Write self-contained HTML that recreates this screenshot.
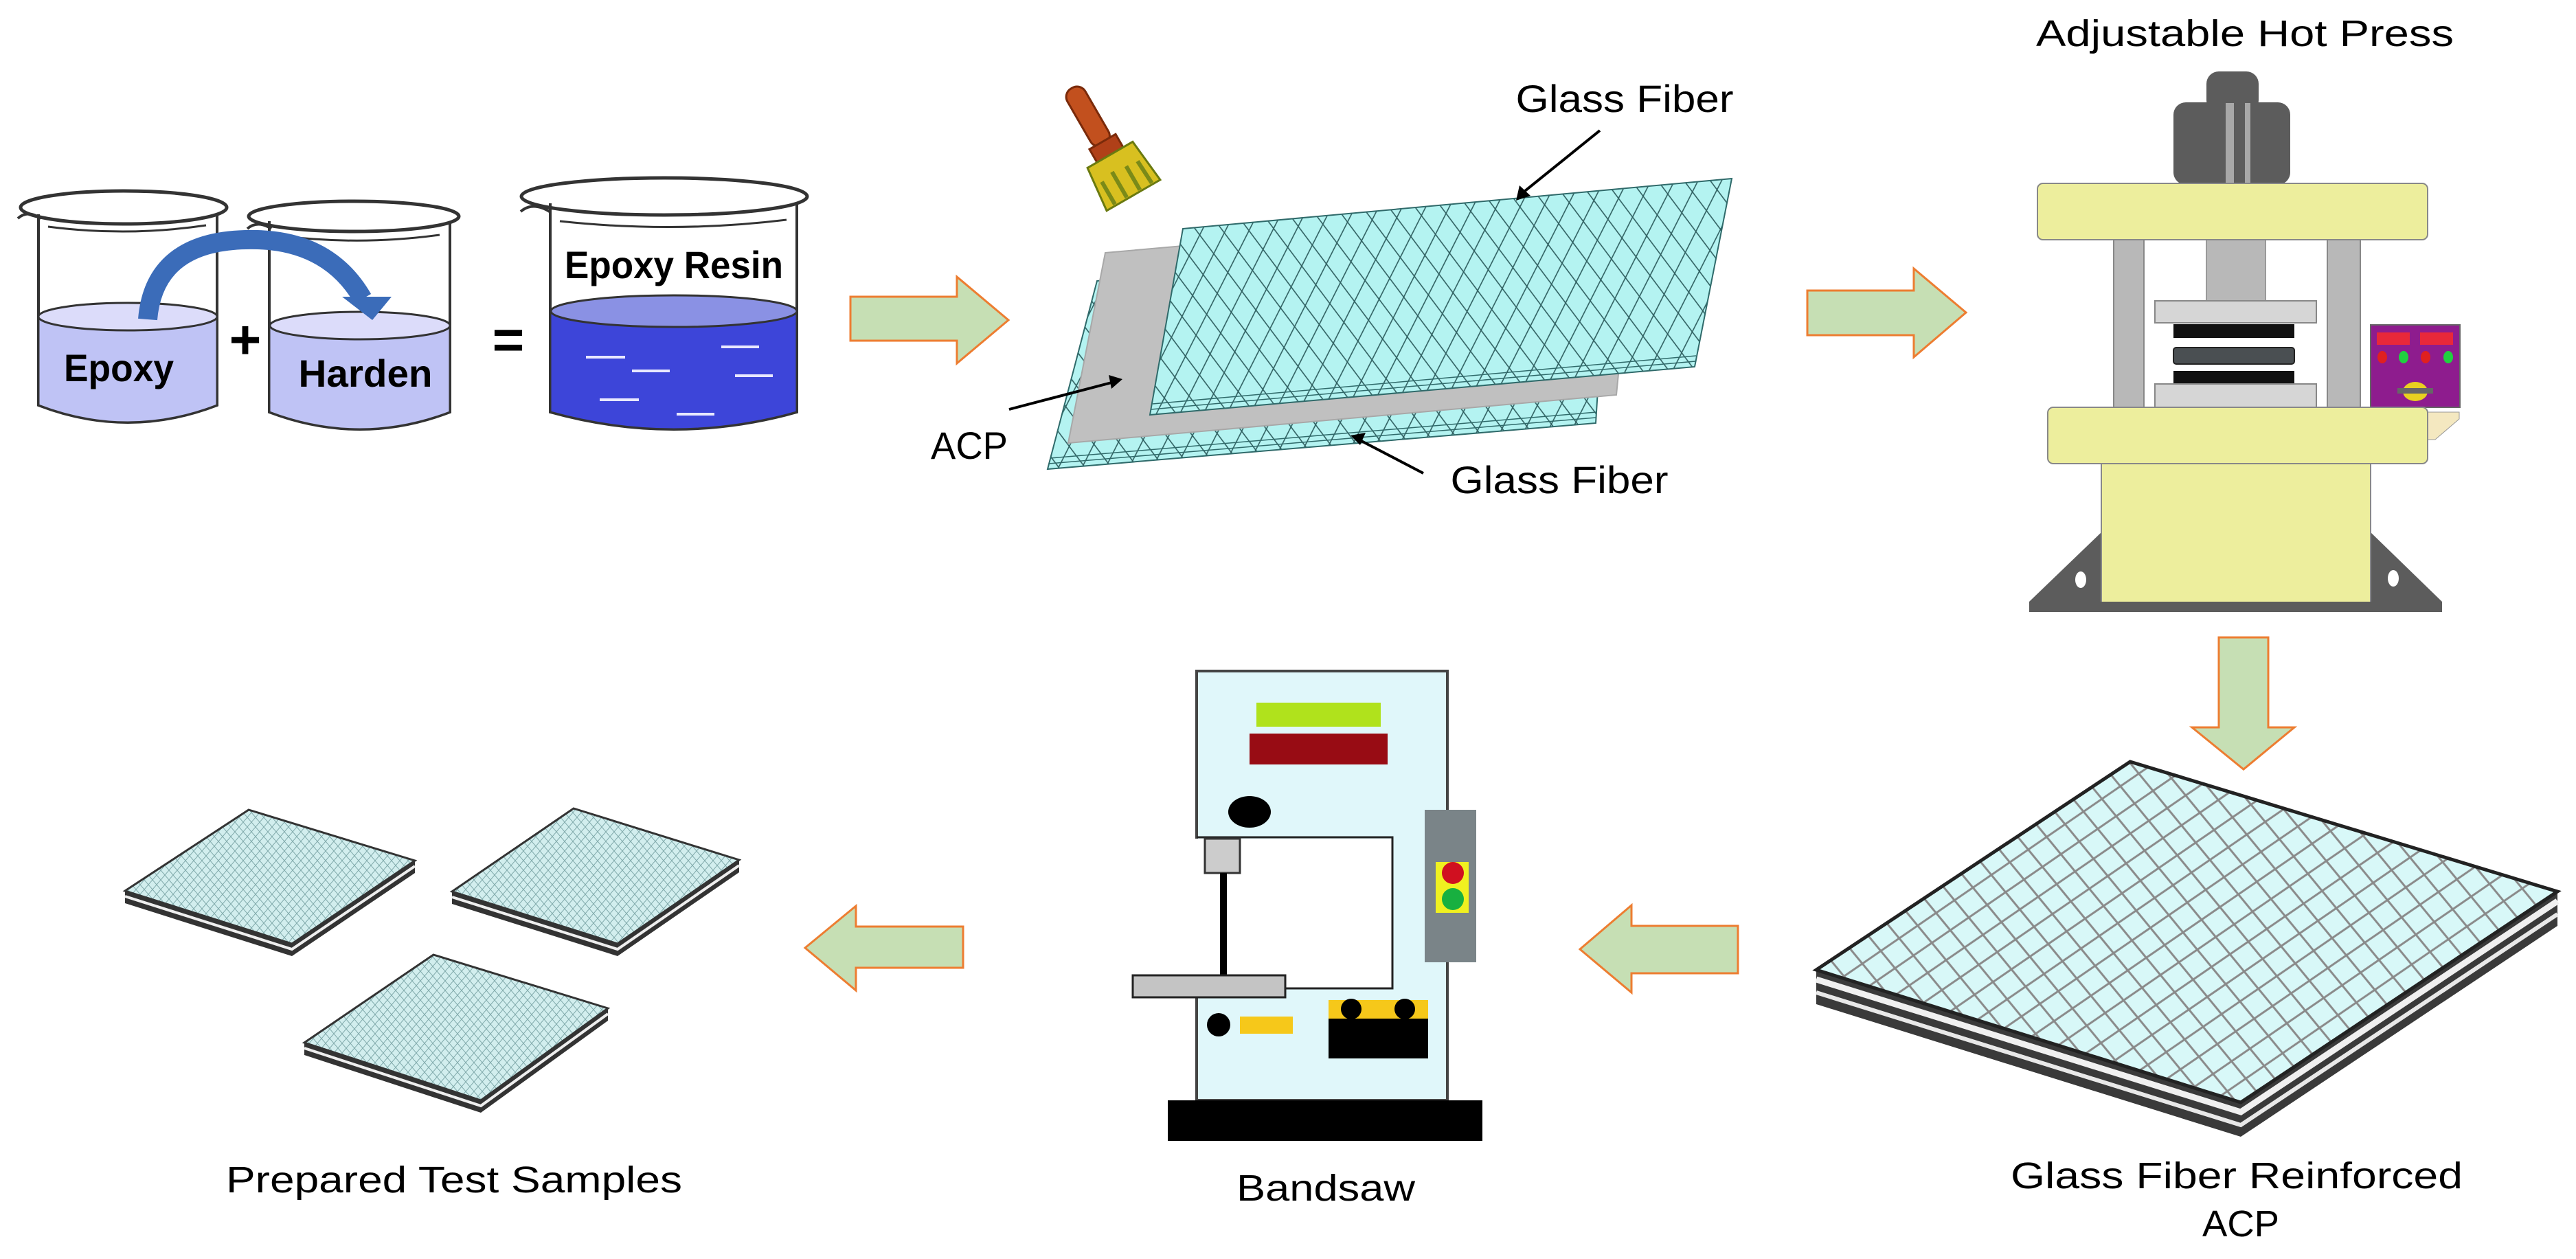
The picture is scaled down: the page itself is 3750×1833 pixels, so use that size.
<!DOCTYPE html>
<html><head><meta charset="utf-8">
<style>
html,body{margin:0;padding:0;background:#fff;}
svg{display:block;}
text{font-family:"Liberation Sans",sans-serif;}
</style></head>
<body>
<svg width="3750" height="1833" viewBox="0 0 3750 1833" xmlns="http://www.w3.org/2000/svg">
<defs>
 <pattern id="mesh" width="36" height="58" patternUnits="userSpaceOnUse" patternTransform="rotate(-5)">
  <rect width="36" height="58" fill="#b4f3f1"/>
  <path d="M0 0L36 58M36 0L0 58" stroke="#2f5f60" stroke-width="1.6"/>
 </pattern>
 <pattern id="mesh2" width="48" height="44" patternUnits="userSpaceOnUse" patternTransform="rotate(8)">
  <rect width="48" height="44" fill="#d8f8f8"/>
  <path d="M0 0L48 44M48 0L0 44" stroke="#8a8a8a" stroke-width="3"/>
 </pattern>
 <pattern id="mesh3" width="12" height="14" patternUnits="userSpaceOnUse">
  <rect width="12" height="14" fill="#d2eeee"/>
  <path d="M0 0L12 14M12 0L0 14" stroke="#7fa9aa" stroke-width="1"/>
 </pattern>
</defs>

<!-- ===== Beakers ===== -->
<path d="M56 312 L56 590 Q186 640 316 590 L316 312" fill="#fff" stroke="#333" stroke-width="4"/>
<path d="M56 460 L56 590 Q186 640 316 590 L316 460 Z" fill="#bfc3f5" stroke="#333" stroke-width="3"/>
<ellipse cx="186" cy="461" rx="130" ry="20" fill="#dcdcfa" stroke="#333" stroke-width="3"/>
<ellipse cx="180" cy="302" rx="150" ry="24" fill="none" stroke="#333" stroke-width="5"/>
<path d="M26 318 Q40 305 60 318" fill="none" stroke="#333" stroke-width="4"/>
<path d="M70 330 Q186 345 300 328" fill="none" stroke="#333" stroke-width="3"/>
<path d="M392 322 L392 600 Q524 650 655 600 L655 322" fill="#fff" stroke="#333" stroke-width="4"/>
<path d="M392 474 L392 600 Q524 650 655 600 L655 474 Z" fill="#bfc3f5" stroke="#333" stroke-width="3"/>
<ellipse cx="524" cy="474" rx="131" ry="20" fill="#dcdcfa" stroke="#333" stroke-width="3"/>
<ellipse cx="515" cy="315" rx="153" ry="22" fill="none" stroke="#333" stroke-width="5"/>
<path d="M360 333 Q375 320 395 333" fill="none" stroke="#333" stroke-width="4"/>
<path d="M405 343 Q524 358 640 342" fill="none" stroke="#333" stroke-width="3"/>
<path d="M801 296 L801 600 Q981 650 1160 600 L1160 296" fill="#fff" stroke="#333" stroke-width="4"/>
<path d="M801 453 L801 600 Q981 650 1160 600 L1160 453 Z" fill="#3d45d9" stroke="#333" stroke-width="3"/>
<ellipse cx="981" cy="453" rx="179" ry="23" fill="#8a91e4" stroke="#333" stroke-width="3"/>
<ellipse cx="967" cy="286" rx="208" ry="27" fill="none" stroke="#333" stroke-width="5"/>
<path d="M758 308 Q775 293 800 308" fill="none" stroke="#333" stroke-width="4"/>
<path d="M815 322 Q981 340 1145 320" fill="none" stroke="#333" stroke-width="3"/>
<g stroke="#e8e8ff" stroke-width="4">
 <line x1="853" y1="520" x2="910" y2="520"/><line x1="920" y1="540" x2="975" y2="540"/>
 <line x1="1050" y1="505" x2="1105" y2="505"/><line x1="1070" y1="547" x2="1125" y2="547"/>
 <line x1="873" y1="582" x2="930" y2="582"/><line x1="985" y1="603" x2="1040" y2="603"/>
</g>
<path d="M215 465 Q225 345 375 349 Q480 352 528 435" fill="none" stroke="#3b6cb9" stroke-width="28"/>
<polygon points="498,432 570,432 542,466" fill="#3b6cb9"/>
<text x="173" y="555" font-size="56" font-weight="bold" text-anchor="middle" textLength="160" lengthAdjust="spacingAndGlyphs">Epoxy</text>
<text x="532" y="563" font-size="56" font-weight="bold" text-anchor="middle" textLength="195" lengthAdjust="spacingAndGlyphs">Harden</text>
<text x="981" y="405" font-size="56" font-weight="bold" text-anchor="middle" textLength="318" lengthAdjust="spacingAndGlyphs">Epoxy Resin</text>
<text x="357" y="522" font-size="80" font-weight="bold" text-anchor="middle">+</text>
<text x="740" y="522" font-size="80" font-weight="bold" text-anchor="middle">=</text>

<polygon points="1238,432 1393,432 1393,403 1468,466 1393,529 1393,496 1238,496" fill="#c6dfb4" stroke="#ed7d31" stroke-width="3"/>

<g transform="translate(1610,215) rotate(-30)">
 <rect x="-15" y="-100" width="30" height="95" rx="14" fill="#c2501e" stroke="#7a2a0a" stroke-width="3"/>
 <rect x="-22" y="-10" width="44" height="22" fill="#b04018" stroke="#7a2a0a" stroke-width="3"/>
 <path d="M-38 12 L38 12 L45 80 L-45 80 Z" fill="#d8c020" stroke="#6a7a10" stroke-width="3"/>
 <path d="M-30 40 L-30 78 M-10 35 L-10 78 M12 38 L12 78 M30 40 L32 78" stroke="#7a8a18" stroke-width="6"/>
</g>

<polygon points="1597,409 2340,340 2323,616 1525,683" fill="url(#mesh)" stroke="#2f6a6a" stroke-width="2"/>
<path d="M1527 675 L2323 608 M1529 667 L2324 600" stroke="#2f6a6a" stroke-width="1.5"/>
<polygon points="1609,368 2380,300 2353,575 1555,645" fill="#c0c0c0" stroke="#a8a8a8" stroke-width="2"/>
<polygon points="1722,333 2521,260 2467,534 1674,604" fill="url(#mesh)" stroke="#2f6a6a" stroke-width="2"/>
<path d="M1676 596 L2468 526 M1678 588 L2469 518" stroke="#2f6a6a" stroke-width="1.5"/>
<line x1="2329" y1="190" x2="2215" y2="282" stroke="#000" stroke-width="4"/>
<polygon points="2207,292 2212,270 2228,285" fill="#000"/>
<line x1="2072" y1="689" x2="1978" y2="640" stroke="#000" stroke-width="4"/>
<polygon points="1966,634 1988,630 1980,648" fill="#000"/>
<line x1="1469" y1="596" x2="1622" y2="556" stroke="#000" stroke-width="4"/>
<polygon points="1634,552 1614,546 1618,566" fill="#000"/>
<text x="2365" y="163" font-size="56" text-anchor="middle" textLength="317" lengthAdjust="spacingAndGlyphs">Glass Fiber</text>
<text x="2270" y="718" font-size="56" text-anchor="middle" textLength="317" lengthAdjust="spacingAndGlyphs">Glass Fiber</text>
<text x="1411" y="668" font-size="56" text-anchor="middle" textLength="112" lengthAdjust="spacingAndGlyphs">ACP</text>

<polygon points="2631,423 2786,423 2786,391 2862,455 2786,520 2786,488 2631,488" fill="#c6dfb4" stroke="#ed7d31" stroke-width="3"/>

<text x="3268" y="67" font-size="54" text-anchor="middle" textLength="608" lengthAdjust="spacingAndGlyphs">Adjustable Hot Press</text>
<rect x="3212" y="104" width="76" height="60" rx="18" fill="#5c5c5c"/>
<rect x="3164" y="149" width="170" height="120" rx="18" fill="#5c5c5c"/>
<rect x="3240" y="150" width="12" height="118" fill="#a8a8a8"/>
<rect x="3268" y="150" width="8" height="118" fill="#a8a8a8"/>
<rect x="3212" y="349" width="86" height="90" fill="#b8b8b8" stroke="#999" stroke-width="2"/>
<rect x="3077" y="349" width="44" height="245" fill="#b8b8b8" stroke="#888" stroke-width="2"/>
<rect x="3388" y="349" width="48" height="245" fill="#b8b8b8" stroke="#888" stroke-width="2"/>
<rect x="2966" y="267" width="568" height="82" rx="8" fill="#edee9d" stroke="#888" stroke-width="2"/>
<rect x="3137" y="438" width="235" height="32" fill="#d6d6d6" stroke="#888" stroke-width="2"/>
<rect x="3164" y="472" width="176" height="20" fill="#111"/>
<rect x="3164" y="506" width="176" height="24" rx="4" fill="#4a4f52" stroke="#222" stroke-width="2"/>
<rect x="3164" y="540" width="176" height="19" fill="#111"/>
<rect x="3137" y="559" width="235" height="35" fill="#d6d6d6" stroke="#888" stroke-width="2"/>
<rect x="3451" y="473" width="130" height="120" fill="#8e1c8e" stroke="#666" stroke-width="2"/>
<rect x="3460" y="484" width="48" height="18" fill="#e8283a"/>
<rect x="3523" y="484" width="48" height="18" fill="#e8283a"/>
<ellipse cx="3468" cy="520" rx="7" ry="9" fill="#e02020"/>
<ellipse cx="3499" cy="520" rx="7" ry="9" fill="#20d040"/>
<ellipse cx="3531" cy="520" rx="7" ry="9" fill="#e02020"/>
<ellipse cx="3564" cy="520" rx="7" ry="9" fill="#20d040"/>
<ellipse cx="3516" cy="570" rx="18" ry="14" fill="#e8d020"/>
<rect x="3490" y="565" width="52" height="8" fill="#666"/>
<polygon points="3534,600 3580,600 3580,610 3545,640 3534,640" fill="#f4e8c0" stroke="#999" stroke-width="1"/>
<polygon points="2954,876 3059,876 3059,775" fill="#5c5c5c"/>
<polygon points="3555,876 3451,876 3451,775" fill="#5c5c5c"/>
<ellipse cx="3029" cy="844" rx="8" ry="12" fill="#fff"/>
<ellipse cx="3484" cy="842" rx="8" ry="12" fill="#fff"/>
<rect x="3059" y="675" width="392" height="202" fill="#edee9d" stroke="#888" stroke-width="2"/>
<rect x="2981" y="593" width="553" height="82" rx="8" fill="#edee9d" stroke="#888" stroke-width="2"/>
<rect x="2954" y="876" width="601" height="15" fill="#5c5c5c"/>

<polygon points="3230,928 3302,928 3302,1059 3340,1059 3266,1120 3191,1059 3230,1059" fill="#c6dfb4" stroke="#ed7d31" stroke-width="3"/>

<polygon points="2644,1412 3262,1605 3723,1298 3723,1348 3262,1655 2644,1462" fill="#3a3a3a"/>
<polyline points="2644,1426 3262,1619 3723,1312" fill="none" stroke="#f0f0f0" stroke-width="9"/>
<polyline points="2644,1445 3262,1638 3723,1331" fill="none" stroke="#e8e8e8" stroke-width="6"/>
<polygon points="3101,1109 3723,1298 3262,1605 2644,1412" fill="url(#mesh2)" stroke="#222" stroke-width="5"/>
<text x="3256" y="1730" font-size="54" text-anchor="middle" textLength="658" lengthAdjust="spacingAndGlyphs">Glass Fiber Reinforced</text>
<text x="3262" y="1800" font-size="54" text-anchor="middle" textLength="112" lengthAdjust="spacingAndGlyphs">ACP</text>

<polygon points="2530,1348 2375,1348 2375,1318 2300,1382 2375,1445 2375,1417 2530,1417" fill="#c6dfb4" stroke="#ed7d31" stroke-width="3"/>

<!-- ===== Bandsaw ===== -->
<rect x="1742" y="977" width="365" height="625" fill="#e0f7fa" stroke="#444" stroke-width="4"/>
<rect x="1738" y="1221" width="289" height="218" fill="#fff"/>
<polyline points="1742,1219 2027,1219 2027,1439 1871,1439" fill="none" stroke="#222" stroke-width="3"/>
<rect x="1829" y="1023" width="181" height="35" fill="#b0e21c"/>
<rect x="1819" y="1068" width="201" height="45" fill="#980c14"/>
<ellipse cx="1819" cy="1182" rx="31" ry="23" fill="#000"/>
<rect x="1754" y="1221" width="51" height="50" fill="#ccc" stroke="#333" stroke-width="3"/>
<rect x="1776" y="1271" width="10" height="150" fill="#000"/>
<rect x="1649" y="1420" width="222" height="32" fill="#c4c4c4" stroke="#222" stroke-width="3"/>
<circle cx="1774" cy="1492" r="17" fill="#000"/>
<rect x="1805" y="1480" width="77" height="25" fill="#f6c81a"/>
<rect x="1934" y="1456" width="145" height="28" fill="#f6c81a"/>
<rect x="1934" y="1483" width="145" height="58" fill="#000"/>
<circle cx="1967" cy="1469" r="15" fill="#000"/>
<circle cx="2045" cy="1469" r="15" fill="#000"/>
<rect x="2074" y="1179" width="75" height="222" fill="#7a8488"/>
<rect x="2090" y="1255" width="48" height="74" fill="#f0f020"/>
<circle cx="2115" cy="1271" r="16" fill="#d01020"/>
<circle cx="2115" cy="1309" r="16" fill="#18b040"/>
<rect x="1700" y="1602" width="458" height="59" fill="#000"/>
<text x="1930" y="1748" font-size="54" text-anchor="middle" textLength="260" lengthAdjust="spacingAndGlyphs">Bandsaw</text>

<polygon points="1402,1349 1246,1349 1246,1319 1172,1380 1246,1442 1246,1409 1402,1409" fill="#c6dfb4" stroke="#ed7d31" stroke-width="3"/>

<g>
 <polygon points="182,1297 425,1374 604,1253 604,1271 425,1392 182,1315" fill="#333"/>
 <polyline points="182,1305 425,1382 604,1261" fill="none" stroke="#eee" stroke-width="4"/>
 <polygon points="362,1179 604,1253 425,1374 182,1297" fill="url(#mesh3)" stroke="#333" stroke-width="3"/>
</g>
<g>
 <polygon points="658,1298 899,1374 1076,1252 1076,1270 899,1392 658,1316" fill="#333"/>
 <polyline points="658,1306 899,1382 1076,1260" fill="none" stroke="#eee" stroke-width="4"/>
 <polygon points="835,1177 1076,1252 899,1374 658,1298" fill="url(#mesh3)" stroke="#333" stroke-width="3"/>
</g>
<g>
 <polygon points="443,1518 700,1602 885,1468 885,1486 700,1620 443,1536" fill="#333"/>
 <polyline points="443,1526 700,1610 885,1476" fill="none" stroke="#eee" stroke-width="4"/>
 <polygon points="631,1390 885,1468 700,1602 443,1518" fill="url(#mesh3)" stroke="#333" stroke-width="3"/>
</g>
<text x="661" y="1736" font-size="54" text-anchor="middle" textLength="664" lengthAdjust="spacingAndGlyphs">Prepared Test Samples</text>
</svg>
</body></html>
